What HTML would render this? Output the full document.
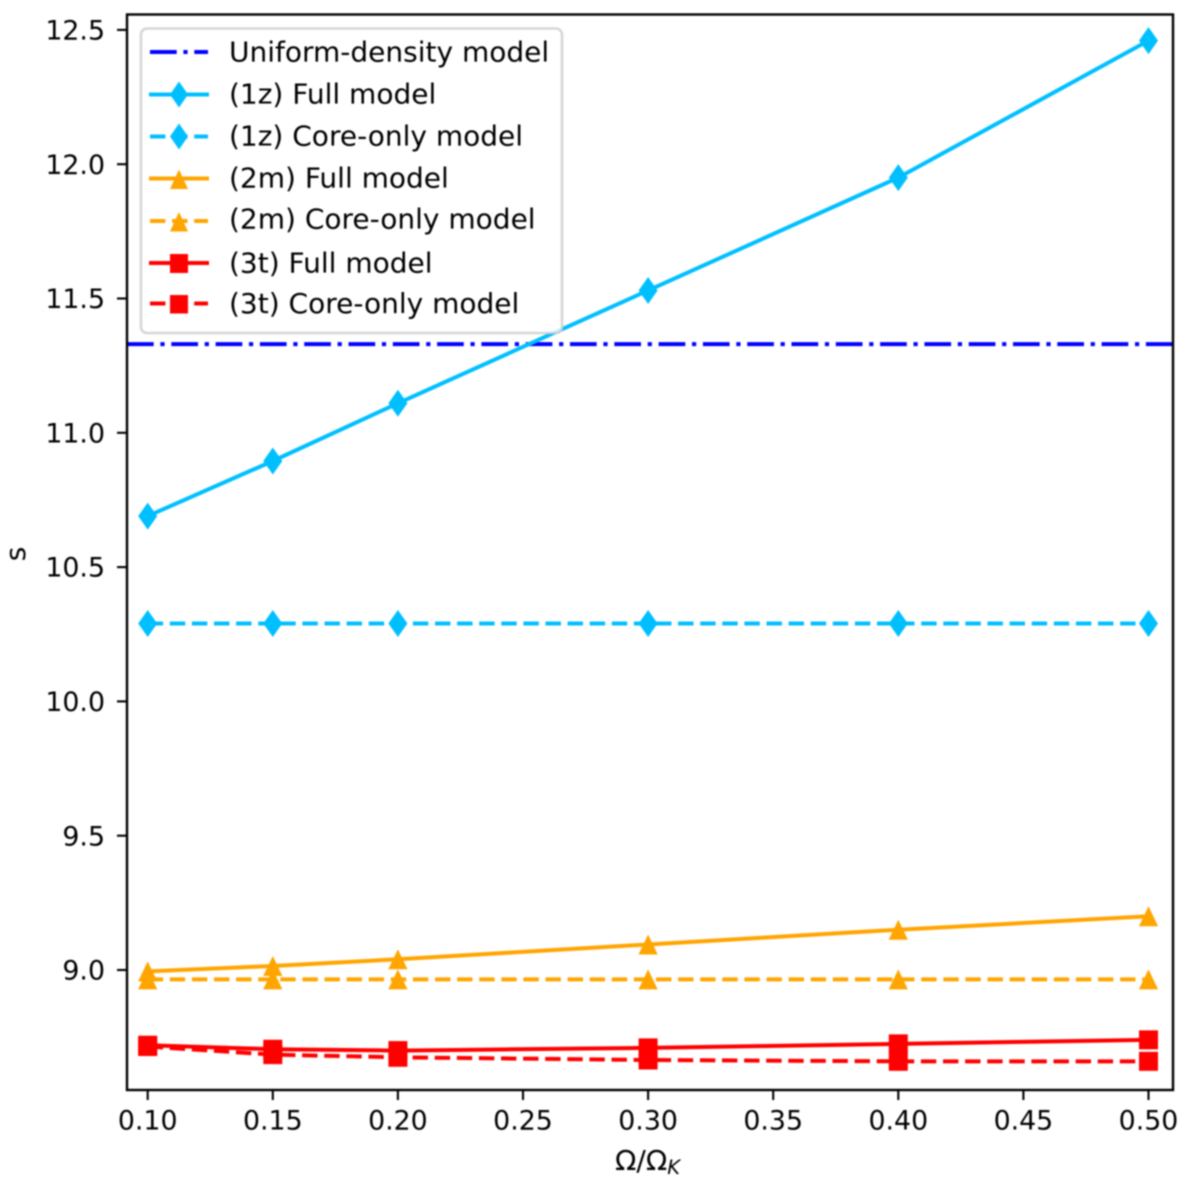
<!DOCTYPE html>
<html lang="en">
<head>
<meta charset="utf-8">
<title>s versus Omega / Omega K</title>
<style>
  html, body { margin: 0; padding: 0; background: #fff; }
  body { width: 1200px; height: 1184px; overflow: hidden; }
  #chart { display: block; filter: blur(0.7px); }
  text { font-family: "DejaVu Sans", "Liberation Sans", sans-serif; font-size: 28px; fill: #000; }
  #tick-layer text { font-size: 26.8px; }
</style>
</head>
<body>
<svg id="chart" xmlns="http://www.w3.org/2000/svg" width="1200" height="1184" viewBox="0 0 1200 1184">
  <defs>
    <clipPath id="plot-clip"><rect x="127" y="14.5" width="1046" height="1075.5"></rect></clipPath>
  </defs>
  <g id="series-layer" clip-path="url(#plot-clip)"></g>
  <g id="tick-layer"></g>
  <rect x="127" y="14.5" width="1046" height="1075.5" fill="none" stroke="#000" stroke-width="2.4"></rect>

  <text x="615" y="1170">Ω/Ω<tspan font-style="italic" style="font-size:19.5px" dy="4">K</tspan></text>
  <text transform="translate(25 554) rotate(-90)" text-anchor="middle">s</text>

  <g>
    <rect x="141" y="28.5" width="421" height="304.5" rx="6" ry="6" fill="#fff" fill-opacity="0.8" stroke="#ccc" stroke-opacity="0.8" stroke-width="2.6"></rect>

    <g>
      <line x1="150" x2="208" y1="52" y2="52" stroke="#0000ff" stroke-width="4" stroke-dasharray="26.7 6.7 4.2 6.7"></line>
      <text x="229" y="61.5">Uniform-density model</text>
    </g>
    <g>
      <line x1="149" x2="209" y1="94.5" y2="94.5" stroke="#00bfff" stroke-width="4"></line>
      <polygon points="179,81.5 188,94.5 179,107.5 170,94.5" fill="#00bfff"></polygon>
      <text x="229" y="103.5">(1z) Full model</text>
    </g>
    <g>
      <line x1="150" x2="208" y1="136.5" y2="136.5" stroke="#00bfff" stroke-width="4" stroke-dasharray="15.4 6.7"></line>
      <polygon points="179,123.5 188,136.5 179,149.5 170,136.5" fill="#00bfff"></polygon>
      <text x="229" y="145.5">(1z) Core-only model</text>
    </g>
    <g>
      <line x1="149" x2="209" y1="178.5" y2="178.5" stroke="#ffa500" stroke-width="4"></line>
      <polygon points="179,169.5 188,189 170,189" fill="#ffa500"></polygon>
      <text x="229" y="187.5">(2m) Full model</text>
    </g>
    <g>
      <line x1="150" x2="208" y1="221" y2="221" stroke="#ffa500" stroke-width="4" stroke-dasharray="15.4 6.7"></line>
      <polygon points="179,212 188,231.5 170,231.5" fill="#ffa500"></polygon>
      <text x="229" y="228.5">(2m) Core-only model</text>
    </g>
    <g>
      <line x1="149" x2="209" y1="263" y2="263" stroke="#ff0000" stroke-width="4"></line>
      <rect x="170" y="254" width="18" height="19" fill="#ff0000"></rect>
      <text x="229" y="272.5">(3t) Full model</text>
    </g>
    <g>
      <line x1="150" x2="208" y1="303.5" y2="303.5" stroke="#ff0000" stroke-width="4" stroke-dasharray="15.4 6.7"></line>
      <rect x="170" y="295" width="18" height="18.5" fill="#ff0000"></rect>
      <text x="229" y="313">(3t) Core-only model</text>
    </g>
  </g>
</svg>
<script>
// Chart data
const omegaRatios = [0.10, 0.15, 0.20, 0.30, 0.40, 0.50];
const uniformDensity = [11.33];
const full1z = [10.69, 10.895, 11.11, 11.53, 11.95, 12.46];
const core1z = [10.29, 10.29, 10.29, 10.29, 10.29, 10.29];
const full2m = [8.995, 9.015, 9.04, 9.095, 9.15, 9.20];
const core2m = [8.965, 8.965, 8.965, 8.965, 8.965, 8.965];
const full3t = [8.72, 8.705, 8.70, 8.71, 8.725, 8.74];
const core3t = [8.715, 8.685, 8.675, 8.665, 8.66, 8.66];
const xTickValues = [0.10, 0.15, 0.20, 0.25, 0.30, 0.35, 0.40, 0.45, 0.50];
const yTickValues = [9.0, 9.5, 10.0, 10.5, 11.0, 11.5, 12.0, 12.5];

// Axis functions
function xScale(v) { return 147.7 + (v - 0.10) * 2502; }
function yScale(v) { return 970 - (v - 9) * 268.6; }

const NS = 'http://www.w3.org/2000/svg';
const seriesLayer = document.getElementById('series-layer');
const tickLayer = document.getElementById('tick-layer');

function make(tag, attrs, parent) {
  const el = document.createElementNS(NS, tag);
  for (const k in attrs) el.setAttribute(k, attrs[k]);
  parent.appendChild(el);
  return el;
}

// Ticks
xTickValues.forEach(function (v) {
  const px = xScale(v);
  const mark = make('line', { x1: px, x2: px, y1: 1090, y2: 1100, stroke: '#000', 'stroke-width': 2.1 }, tickLayer);
  
  
  const label = make('text', { x: px, y: 1129.5, 'text-anchor': 'middle' }, tickLayer);
  label.textContent = v.toFixed(2);
  
  
});
yTickValues.forEach(function (v) {
  const py = yScale(v);
  const mark = make('line', { x1: 117, x2: 127, y1: py, y2: py, stroke: '#000', 'stroke-width': 2.1 }, tickLayer);
  
  
  const label = make('text', { x: 105, y: py + 9.6, 'text-anchor': 'end' }, tickLayer);
  label.textContent = v.toFixed(1);
  
  
});

// Uniform-density reference line
const uniformLine = make('line', {
  x1: 127, x2: 1173,
  y1: yScale(uniformDensity[0]), y2: yScale(uniformDensity[0]),
  stroke: '#0000ff', 'stroke-width': 4,
  'stroke-dasharray': '26.7 6.7 4.2 6.7'
}, seriesLayer);



function drawMarker(kind, px, py, color, parent) {
  if (kind === 'diamond') {
    const pts = [[px, py - 13.5], [px + 9.5, py], [px, py + 13.5], [px - 9.5, py]];
    return make('polygon', { points: pts.map(function (p) { return p.join(','); }).join(' '), fill: color }, parent);
  }
  if (kind === 'triangle') {
    const pts = [[px, py - 10], [px + 9.6, py + 10], [px - 9.6, py + 10]];
    return make('polygon', { points: pts.map(function (p) { return p.join(','); }).join(' '), fill: color }, parent);
  }
  return make('rect', { x: px - 9.5, y: py - 9.5, width: 19, height: 19, fill: color }, parent);
}

function drawSeries(seriesName, values, color, dash, kind) {
  const group = make('g', {}, seriesLayer);
  
  
  const pts = values.map(function (v, i) { return xScale(omegaRatios[i]) + ',' + yScale(v); }).join(' ');
  const line = make('polyline', { points: pts, fill: 'none', stroke: color, 'stroke-width': 4, 'stroke-linejoin': 'round' }, group);
  if (dash) line.setAttribute('stroke-dasharray', dash);
  
  
  values.forEach(function (v, i) {
    const m = drawMarker(kind, xScale(omegaRatios[i]), yScale(v), color, group);
    
    
  });
}

drawSeries('1z-full', full1z, '#00bfff', null, 'diamond');
drawSeries('1z-core', core1z, '#00bfff', '15.4 6.7', 'diamond');
drawSeries('2m-full', full2m, '#ffa500', null, 'triangle');
drawSeries('2m-core', core2m, '#ffa500', '15.4 6.7', 'triangle');
drawSeries('3t-full', full3t, '#ff0000', null, 'square');
drawSeries('3t-core', core3t, '#ff0000', '15.4 6.7', 'square');
</script>
</body>
</html>
